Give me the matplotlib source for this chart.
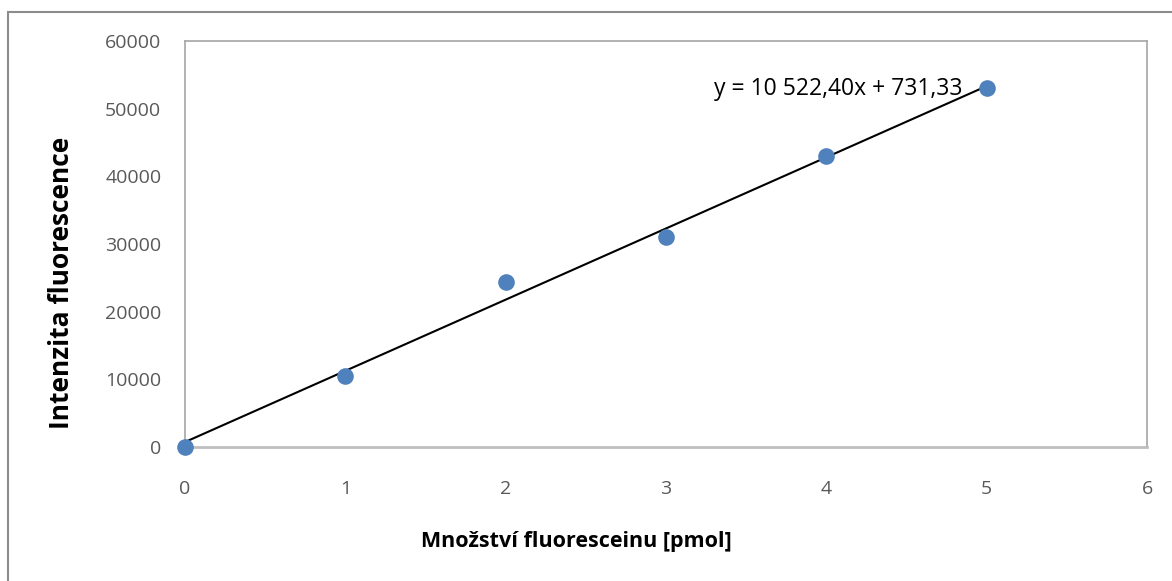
import matplotlib.pyplot as plt
from matplotlib.patches import Rectangle
import numpy as np

plt.rcParams['font.family'] = ['Open Sans', 'DejaVu Sans']

amount = [0, 1, 2, 3, 4, 5]
intensity = [0, 10490, 24380, 31020, 42990, 53030]
slope = 10522.40
intercept = 731.33
equation = 'y = 10 522,40x + 731,33'

fig = plt.figure(figsize=(11.72, 5.81), dpi=100)
ax = fig.add_axes([0.1578, 0.2306, 0.8209, 0.6988])

# outer chart border
fig.patches.append(Rectangle((8 / 1172, -0.1), 1.2, 1 - 12 / 581 + 0.1,
                             transform=fig.transFigure, fill=False,
                             edgecolor='#8C8C8C', linewidth=1.5))

fit_x = np.array([0, 5])
ax.plot(fit_x, slope * fit_x + intercept, color='black', linewidth=1.5, zorder=2)
ax.scatter(amount, intensity, s=120, color='#4F81BD', zorder=3, clip_on=False)

ax.set_xlim(0, 6)
ax.set_ylim(0, 60000)
ax.set_xticks(range(0, 7))
ax.set_yticks(range(0, 60001, 10000))
ax.tick_params(length=0, labelsize=14, colors='#595959')
ax.tick_params(axis='x', pad=24)
ax.tick_params(axis='y', pad=17)
for s in ax.spines.values():
    s.set_color('#A6A6A6')
    s.set_linewidth(1.2)
ax.spines['bottom'].set_color('#BFBFBF')
ax.spines['bottom'].set_linewidth(2)

ax.text(4.85, 52950, equation, fontsize=16.5, ha='right', va='center', color='black')

fig.text(62 / 1172, 1 - 283 / 581, 'Intenzita fluorescence', rotation=90,
         fontsize=19, fontweight='bold', ha='center', va='center')
fig.text(576 / 1172, 1 - 541 / 581, 'Množství fluoresceinu [pmol]',
         fontsize=15.5, fontweight='bold', ha='center', va='center')

fig.savefig('out.png', dpi=100)
